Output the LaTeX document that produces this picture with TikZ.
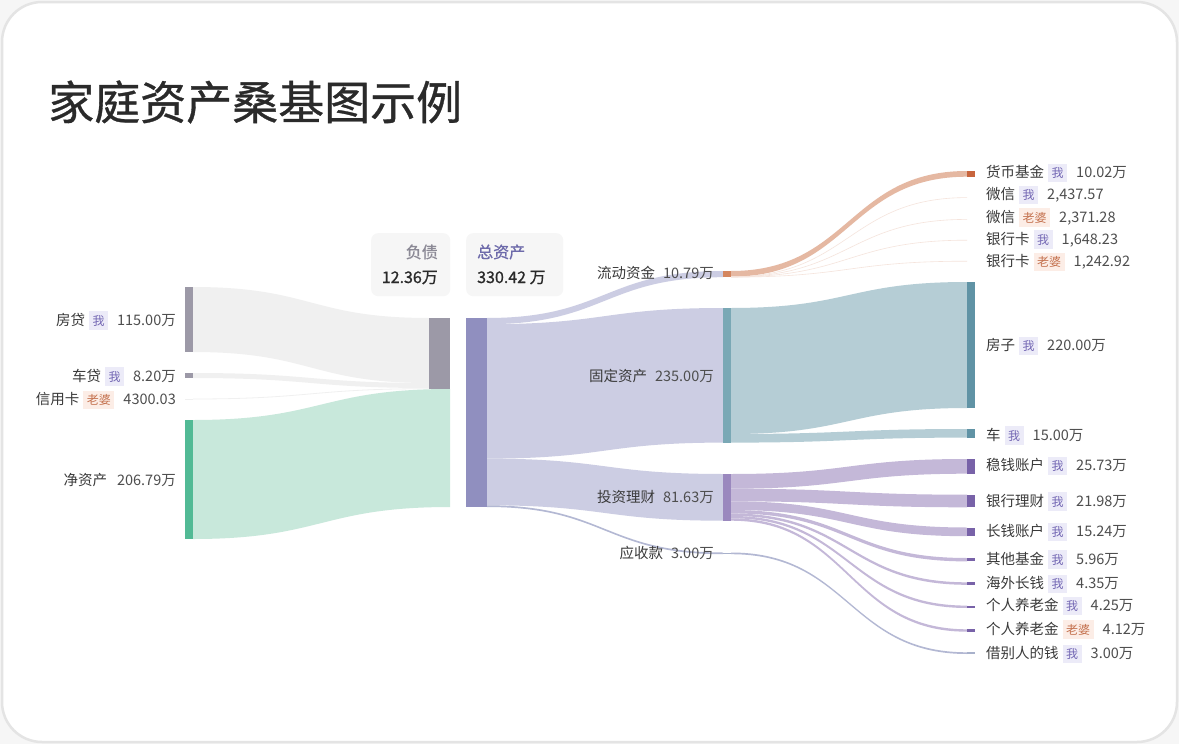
\documentclass[tikz,border=0pt]{standalone}
\usepackage{fontspec}
\setmainfont{Noto Sans CJK SC}
\newfontfamily\titlefont{Noto Sans CJK SC}[FakeBold=0.7]
\newfontfamily\hdrfont{Noto Sans CJK SC}[FakeBold=0.9]
\definecolor{outerbg}{HTML}{F6F6F6}
\definecolor{cardline}{HTML}{E4E4E4}
\definecolor{titlecol}{HTML}{2A2A2A}
\definecolor{txtcol}{HTML}{3A3A3A}
\definecolor{numcol}{HTML}{4E4E4E}
\definecolor{hdrbg}{HTML}{F6F6F6}
\definecolor{hdrfz}{HTML}{8C8A96}
\definecolor{hdrzz}{HTML}{6D6AAA}
\definecolor{tagmebg}{HTML}{ECEBF8}
\definecolor{tagmefg}{HTML}{7468B4}
\definecolor{tagwfbg}{HTML}{FCEDE6}
\definecolor{tagwffg}{HTML}{C4714E}
\definecolor{flowgrey}{HTML}{F0F0F0}
\definecolor{flowgreen}{HTML}{C8E8DB}
\definecolor{flowlav}{HTML}{CCCDE3}
\definecolor{floworange}{HTML}{E5B8A2}
\definecolor{flowfaint}{HTML}{F5E4DC}
\definecolor{flowteal}{HTML}{B5CDD5}
\definecolor{flowpurple}{HTML}{C4B8D8}
\definecolor{flowslate}{HTML}{B3B8D3}
\definecolor{barfz}{HTML}{9C99A7}
\definecolor{bargreen}{HTML}{52BA95}
\definecolor{barzz}{HTML}{908FBF}
\definecolor{barorangeA}{HTML}{D4865F}
\definecolor{barorangeB}{HTML}{C8653D}
\definecolor{bartealA}{HTML}{7AA8B5}
\definecolor{bartealB}{HTML}{6093A5}
\definecolor{barpurpA}{HTML}{9A88BE}
\definecolor{barpurpB}{HTML}{7862A8}
\definecolor{barslate}{HTML}{A8B1CB}
\newcommand\sankeyband[7]{%
  \fill[#7] (#1,#2) .. controls ({(#1+#4)/2},#2) and ({(#1+#4)/2},#5) .. (#4,#5)
    -- (#4,#6) .. controls ({(#1+#4)/2},#6) and ({(#1+#4)/2},#3) .. (#1,#3) -- cycle;}
\newcommand\sankeyline[5]{%
  \draw[#5] (#1,#2) .. controls ({(#1+#3)/2},#2) and ({(#1+#3)/2},#4) .. (#3,#4);}
\newcommand\tagme{\hspace{4pt}{\setlength\fboxsep{3.5pt}\colorbox{tagmebg}{\rule[-1pt]{0pt}{11.5pt}\fontsize{12}{12}\selectfont\textcolor{tagmefg}{我}}}\hspace{9pt}}
\newcommand\tagwife{\hspace{4pt}{\setlength\fboxsep{3.5pt}\colorbox{tagwfbg}{\rule[-1pt]{0pt}{11.5pt}\fontsize{12}{12}\selectfont\textcolor{tagwffg}{老婆}}}\hspace{9pt}}
\newcommand\numtxt[1]{\textcolor{numcol}{#1}}
\tikzset{
  bar/.style={rectangle, inner sep=0pt, outer sep=0pt, minimum width=8pt, anchor=north west},
  widebar/.style={bar, minimum width=21pt},
  lblL/.style={anchor=base east, inner sep=0pt, text=txtcol, font=\fontsize{14.5}{16}\selectfont},
  lblR/.style={anchor=base west, inner sep=0pt, text=txtcol, font=\fontsize{14.5}{16}\selectfont},
  hdrbox/.style={rectangle, rounded corners=7pt, fill=hdrbg, inner sep=0pt, anchor=north west},
  hdrtxt/.style={inner sep=0pt, font=\hdrfont\fontsize{16}{18}\selectfont},
}
\begin{document}
\begin{tikzpicture}[x=1pt,y=-1pt]
\useasboundingbox (0,0) rectangle (1179,744);
\fill[outerbg] (0,0) rectangle (1179,744);
\draw[fill=white, draw=cardline, line width=2.5pt, rounded corners=40pt] (2,2) rectangle (1177,742);

\node[anchor=base west, inner sep=0pt, text=titlecol, font=\titlefont\fontsize{46}{50}\selectfont] (title) at (48,119.5) {家庭资产桑基图示例};

% header boxes
\node[hdrbox, minimum width=79pt, minimum height=63pt] (hfz) at (371,233) {};
\node[hdrbox, minimum width=97pt, minimum height=63pt] (hzz) at (466,233) {};
\node[hdrtxt, anchor=base east, text=hdrfz] (hfz-t) at (438,258) {负债};
\node[hdrtxt, anchor=base east, text=titlecol] (hfz-v) at (438,283) {12.36万};
\node[hdrtxt, anchor=base west, text=hdrzz] (hzz-t) at (477,258) {总资产};
\node[hdrtxt, anchor=base west, text=titlecol] (hzz-v) at (477,283) {330.42 万};

% flows left
\sankeyband{193}{287}{352}{429}{318}{383}{flowgrey}
\sankeyband{193}{373}{378}{429}{383}{388}{flowgrey}
\sankeyline{193}{399}{429}{388.7}{flowgrey, line width=0.8pt}
\sankeyband{193}{420}{539}{450}{389}{507}{flowgreen}

% flows from total assets
\sankeyband{487}{318}{324.2}{723}{271}{277.2}{flowlav}
\sankeyband{487}{324.2}{458.6}{723}{308}{442.6}{flowlav}
\sankeyband{487}{458.6}{505.3}{723}{474}{520.7}{flowlav}
\sankeyband{487}{505.3}{507}{723}{552.5}{554.2}{flowslate}

% flows from liquid funds
\sankeyband{731}{271}{276.7}{967}{171}{176.7}{floworange}
\sankeyline{731}{276.8}{967}{197.6}{flowfaint, line width=0.6pt}
\sankeyline{731}{276.9}{967}{219.4}{flowfaint, line width=0.6pt}
\sankeyline{731}{277.0}{967}{240.2}{flowfaint, line width=0.6pt}
\sankeyline{731}{277.1}{967}{261.2}{flowfaint, line width=0.6pt}

% flows from fixed assets
\sankeyband{731}{308}{434}{967}{282}{408}{flowteal}
\sankeyband{731}{434}{442.6}{967}{429}{437.6}{flowteal}

% flows from investments
\sankeyband{731}{474}{488.7}{967}{459}{473.7}{flowpurple}
\sankeyband{731}{488.7}{501.3}{967}{494.7}{507.3}{flowpurple}
\sankeyband{731}{501.3}{510}{967}{527.5}{536.2}{flowpurple}
\sankeyband{731}{510}{513.4}{967}{558}{561.4}{flowpurple}
\sankeyband{731}{513.4}{515.9}{967}{582.3}{584.8}{flowpurple}
\sankeyband{731}{515.9}{518.3}{967}{605.6}{608}{flowpurple}
\sankeyband{731}{518.3}{520.7}{967}{629.3}{631.7}{flowpurple}

% receivables
\sankeyband{731}{552.5}{554.2}{967}{652.3}{654}{flowslate}

% bars
\node[bar, minimum height=65pt, fill=barfz] (b-fangdai) at (185,287) {};
\node[bar, minimum height=5pt, fill=barfz] (b-chedai) at (185,373) {};
\node[bar, minimum height=0.6pt, fill=flowgrey] (b-xyk) at (185,398.7) {};
\node[bar, minimum height=119pt, fill=bargreen] (b-jzc) at (185,420) {};
\node[widebar, minimum height=71pt, fill=barfz] (b-fz) at (429,318) {};
\node[widebar, minimum height=189pt, fill=barzz] (b-zz) at (466,318) {};
\node[bar, minimum height=6.2pt, fill=barorangeA] (b-ld) at (723,271) {};
\node[bar, minimum height=134.6pt, fill=bartealA] (b-gd) at (723,308) {};
\node[bar, minimum height=46.7pt, fill=barpurpA] (b-tz) at (723,474) {};
\node[bar, minimum height=1.7pt, fill=barslate] (b-ys) at (723,552.5) {};
\node[bar, minimum height=5.7pt, fill=barorangeB] (b-hb) at (967,171) {};
\node[bar, minimum height=126pt, fill=bartealB] (b-fangzi) at (967,282) {};
\node[bar, minimum height=8.6pt, fill=bartealB] (b-che) at (967,429) {};
\node[bar, minimum height=14.7pt, fill=barpurpB] (b-wq) at (967,459) {};
\node[bar, minimum height=12.6pt, fill=barpurpB] (b-yh) at (967,494.7) {};
\node[bar, minimum height=8.7pt, fill=barpurpB] (b-cq) at (967,527.5) {};
\node[bar, minimum height=3.4pt, fill=barpurpB] (b-qt) at (967,558) {};
\node[bar, minimum height=2.5pt, fill=barpurpB] (b-hw) at (967,582.3) {};
\node[bar, minimum height=2.4pt, fill=barpurpB] (b-yl1) at (967,605.6) {};
\node[bar, minimum height=2.4pt, fill=barpurpB] (b-yl2) at (967,629.3) {};
\node[bar, minimum height=1.7pt, fill=barslate] (b-jie) at (967,652.3) {};

% left labels
\node[lblL] (l-fangdai) at (176,325) {房贷\tagme\numtxt{115.00万}};
\node[lblL] (l-chedai) at (176,381.2) {车贷\tagme\numtxt{8.20万}};
\node[lblL] (l-xyk) at (176,404.5) {信用卡\tagwife\numtxt{4300.03}};
\node[lblL] (l-jzc) at (176,485) {净资产\hspace{10pt}\numtxt{206.79万}};

% middle labels
\node[lblL] (l-ld) at (714,278.5) {流动资金\hspace{8pt}\numtxt{10.79万}};
\node[lblL] (l-gd) at (714,381.5) {固定资产\hspace{8pt}\numtxt{235.00万}};
\node[lblL] (l-tz) at (714,502.5) {投资理财\hspace{8pt}\numtxt{81.63万}};
\node[lblL] (l-ys) at (714,558.5) {应收款\hspace{8pt}\numtxt{3.00万}};

% right labels
\node[lblR] (r-hb) at (986,177.5) {货币基金\tagme\numtxt{10.02万}};
\node[lblR] (r-wx1) at (986,199.5) {微信\tagme\numtxt{2,437.57}};
\node[lblR] (r-wx2) at (986,222) {微信\tagwife\numtxt{2,371.28}};
\node[lblR] (r-yhk1) at (986,244.2) {银行卡\tagme\numtxt{1,648.23}};
\node[lblR] (r-yhk2) at (986,266.5) {银行卡\tagwife\numtxt{1,242.92}};
\node[lblR] (r-fangzi) at (986,350.5) {房子\tagme\numtxt{220.00万}};
\node[lblR] (r-che) at (986,440) {车\tagme\numtxt{15.00万}};
\node[lblR] (r-wq) at (986,470.5) {稳钱账户\tagme\numtxt{25.73万}};
\node[lblR] (r-yh) at (986,506) {银行理财\tagme\numtxt{21.98万}};
\node[lblR] (r-cq) at (986,536.5) {长钱账户\tagme\numtxt{15.24万}};
\node[lblR] (r-qt) at (986,564) {其他基金\tagme\numtxt{5.96万}};
\node[lblR] (r-hw) at (986,588.5) {海外长钱\tagme\numtxt{4.35万}};
\node[lblR] (r-yl1) at (986,610.5) {个人养老金\tagme\numtxt{4.25万}};
\node[lblR] (r-yl2) at (986,634) {个人养老金\tagwife\numtxt{4.12万}};
\node[lblR] (r-jie) at (986,658.5) {借别人的钱\tagme\numtxt{3.00万}};
\end{tikzpicture}
\end{document}
